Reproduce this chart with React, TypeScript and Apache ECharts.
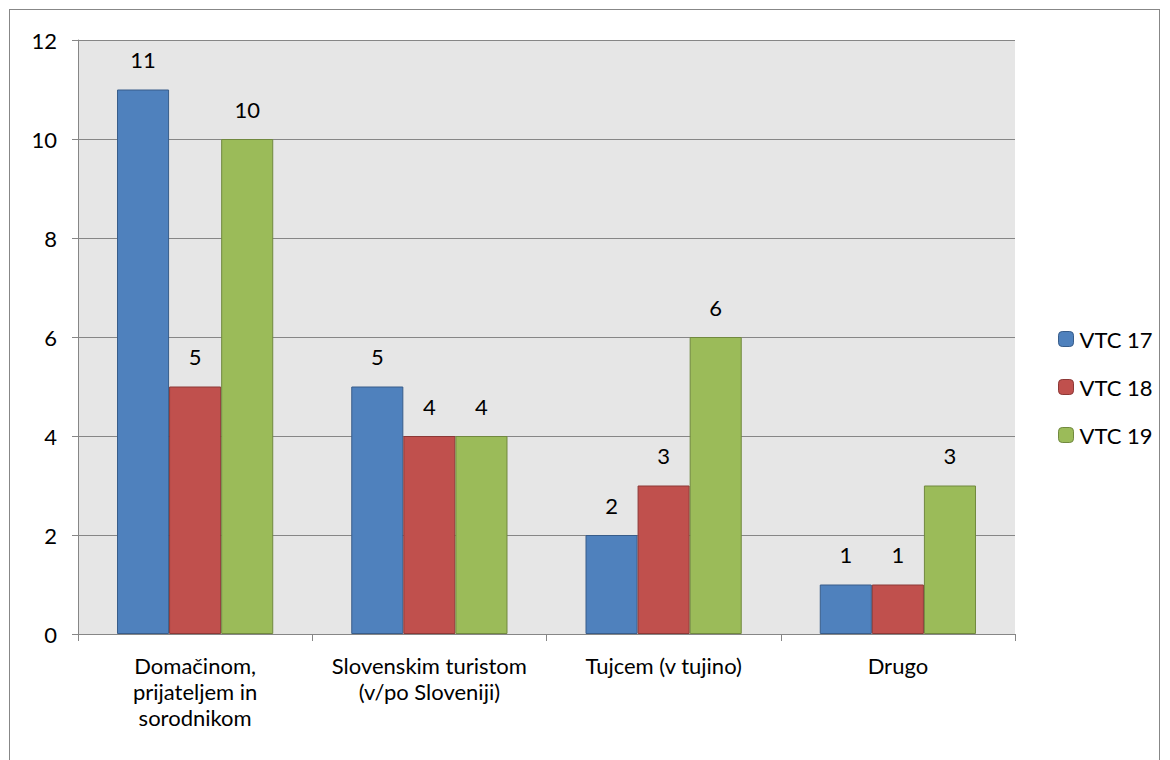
import React, { useEffect, useRef } from "react";
import * as echarts from "echarts";

const categories = [
  "Domačinom,\nprijateljem in\nsorodnikom",
  "Slovenskim turistom\n(v/po Sloveniji)",
  "Tujcem (v tujino)",
  "Drugo",
];
const seriesNames = ["VTC 17", "VTC 18", "VTC 19"];
const vtc17 = [11, 5, 2, 1];
const vtc18 = [5, 4, 3, 1];
const vtc19 = [10, 4, 6, 3];
const yTicks = [0, 2, 4, 6, 8, 10, 12];

const colors = ["#4f81bd", "#c0504d", "#9bbb59"];
const borders = ["#385d8a", "#8c3836", "#71893f"];
const FONT = "Lato, 'Open Sans', sans-serif";
const FS = 22;

export default function App() {
  const ref = useRef<HTMLDivElement>(null);
  useEffect(() => {
    if (!ref.current) return;
    const chart = echarts.init(ref.current, null, { renderer: "svg" });
    const data = [vtc17, vtc18, vtc19];
    chart.setOption({
      animation: false,
      textStyle: { fontFamily: FONT },
      legend: {
        orient: "vertical",
        left: 1043,
        top: 313,
        itemWidth: 15,
        itemHeight: 15,
        itemGap: 26,
        itemStyle: { borderWidth: 1 },
        textStyle: { fontSize: FS, color: "#000", fontFamily: FONT, padding: [0, 0, 0, 1] },
        data: seriesNames,
      },
      grid: {
        left: 68,
        top: 30,
        right: 144,
        bottom: 166,
        show: true,
        backgroundColor: "#e6e6e6",
        borderWidth: 0,
      },
      xAxis: {
        type: "category",
        data: categories,
        axisLine: { lineStyle: { color: "#868686", width: 1 } },
        axisTick: { show: true, length: 7, lineStyle: { color: "#868686" } },
        axisLabel: {
          color: "#000",
          fontSize: FS,
          fontFamily: FONT,
          margin: 18,
          lineHeight: 26,
          interval: 0,
        },
      },
      yAxis: {
        type: "value",
        min: yTicks[0],
        max: yTicks[yTicks.length - 1],
        interval: 2,
        axisLine: { show: true, lineStyle: { color: "#868686" } },
        axisTick: { show: true, length: 6, inside: false, lineStyle: { color: "#868686" } },
        axisLabel: { color: "#000", fontSize: FS, fontFamily: FONT, margin: 21 },
        splitLine: { lineStyle: { color: "#868686", width: 1 } },
      },
      series: seriesNames.map((name, i) => ({
        name,
        type: "bar",
        data: data[i],
        barGap: "0%",
        barCategoryGap: "33.3%",
        itemStyle: { color: colors[i], borderColor: borders[i], borderWidth: 1 },
        label: {
          show: true,
          position: "top",
          distance: 19,
          color: "#000",
          fontSize: FS,
          fontFamily: FONT,
        },
      })),
    });
    return () => chart.dispose();
  }, []);
  return (
    <div style={{ padding: "1px 0 0 1px" }}>
      <div
        ref={ref}
        style={{ width: 1149, height: 790, border: "1px solid #878787" }}
      />
    </div>
  );
}
